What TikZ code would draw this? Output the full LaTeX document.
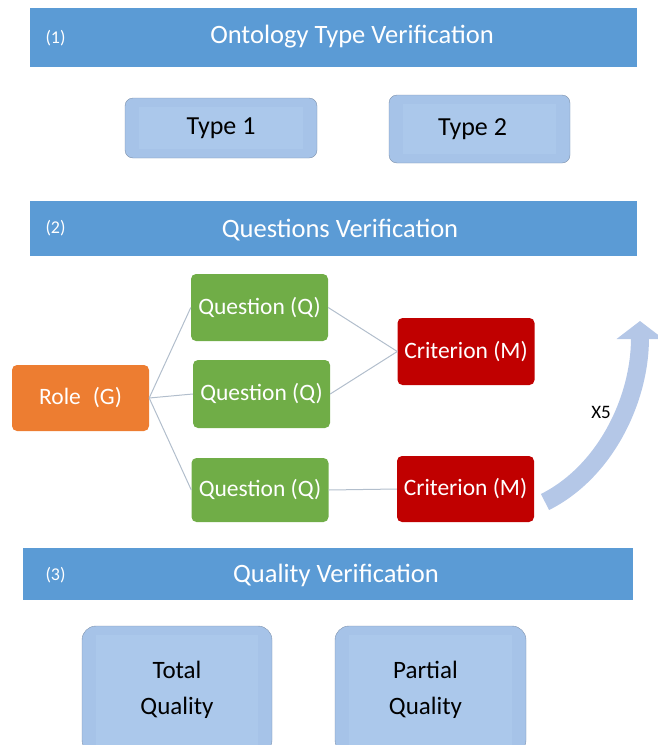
\documentclass[tikz,border=0pt]{standalone}
\usepackage{fontspec}
\setmainfont{Carlito}
\usetikzlibrary{arrows.meta}

\definecolor{bannerblue}{RGB}{91,155,213}
\definecolor{boxblue}{RGB}{166,195,232}
\definecolor{boxinner}{RGB}{171,200,235}
\definecolor{boxline}{RGB}{125,145,172}
\definecolor{qgreen}{RGB}{112,173,71}
\definecolor{rorange}{RGB}{237,125,49}
\definecolor{cred}{RGB}{192,0,0}
\definecolor{linkgray}{RGB}{178,190,204}
\definecolor{arrowblue}{RGB}{180,199,231}

\begin{document}
\begin{tikzpicture}[x=1pt,y=-1pt,
	bantext/.style={text=white,font=\fontsize{26.5}{30}\selectfont},
	bannum/.style={text=white,font=\fontsize{18}{20}\selectfont,anchor=west},
	typebox/.style={draw=boxline,fill=boxblue,rounded corners=8pt,font=\fontsize{26}{30}\selectfont,
		path picture={\fill[boxinner,sharp corners] ([xshift=14pt,yshift=-9pt]path picture bounding box.north west) rectangle ([xshift=-14pt,yshift=9pt]path picture bounding box.south east);}},
	qualbox/.style={typebox,rounded corners=14pt,align=center,font=\fontsize{25}{36}\selectfont},
	smartbox/.style={rounded corners=5pt,text=white,minimum width=137pt,minimum height=67pt,font=\fontsize{23.5}{26}\selectfont},
	link/.style={draw=linkgray,line width=1pt}]
	\useasboundingbox (0,0) rectangle (657,745);

	% (1)
	\fill[bannerblue] (30,8) rectangle (637,67);
	\node[bannum] (n1) at (42,38) {(1)};
	\node[bantext] (t1) at (352,37) {Ontology Type Verification};
	\node[typebox,minimum width=192pt,minimum height=60pt] (type1) at (221,128) {Type 1};
	\node[typebox,minimum width=181pt,minimum height=68pt] (type2) at (479.5,129) {\hspace*{-14pt}Type 2};

	% (2)
	\fill[bannerblue] (30,201) rectangle (637,256);
	\node[bannum] (n2) at (42,228) {(2)};
	\node[bantext] (t2) at (340,230) {Questions Verification};

	\node[smartbox,fill=rorange,minimum height=66pt] (role) at (80.5,398) {Role\hspace{12pt}(G)};
	\node[smartbox,fill=qgreen] (q1) at (259.5,307.5) {Question (Q)};
	\node[smartbox,fill=qgreen,minimum height=68pt] (q2) at (261.5,394) {Question (Q)};
	\node[smartbox,fill=qgreen,minimum height=64pt] (q3) at (260,490) {Question (Q)};
	\node[smartbox,fill=cred] (c1) at (466,351.5) {Criterion (M)};
	\node[smartbox,fill=cred,minimum height=66pt] (c2) at (465.5,489) {Criterion (M)};

	\draw[link] (role.east) -- (q1.west);
	\draw[link] (role.east) -- (q2.west);
	\draw[link] (role.east) -- (q3.west);
	\draw[link] (q1.east) -- (c1.west);
	\draw[link] (q2.east) -- (c1.west);
	\draw[link] (q3.east) -- (c2.west);

	\coordinate (loop1) at (545,502);
	\coordinate (loop2) at (640,321);
	\draw[arrowblue,line width=18pt,-{Triangle[length=18pt,width=46pt]}] (loop1) .. controls (605,472) and (640,400) .. (loop2);
	\node[font=\fontsize{19}{22}\selectfont] (x5) at (601,412) {X5};

	% (3)
	\fill[bannerblue] (23,548) rectangle (633,600);
	\node[bannum] (n3) at (42,575) {(3)};
	\node[bantext] (t3) at (336,575) {Quality Verification};
	\node[qualbox,minimum width=190pt,minimum height=128pt] (total) at (177,690) {Total\\Quality};
	\node[qualbox,minimum width=191pt,minimum height=128pt] (partial) at (430.5,690) {\hspace*{-10pt}Partial\\\hspace*{-10pt}Quality};
\end{tikzpicture}
\end{document}
